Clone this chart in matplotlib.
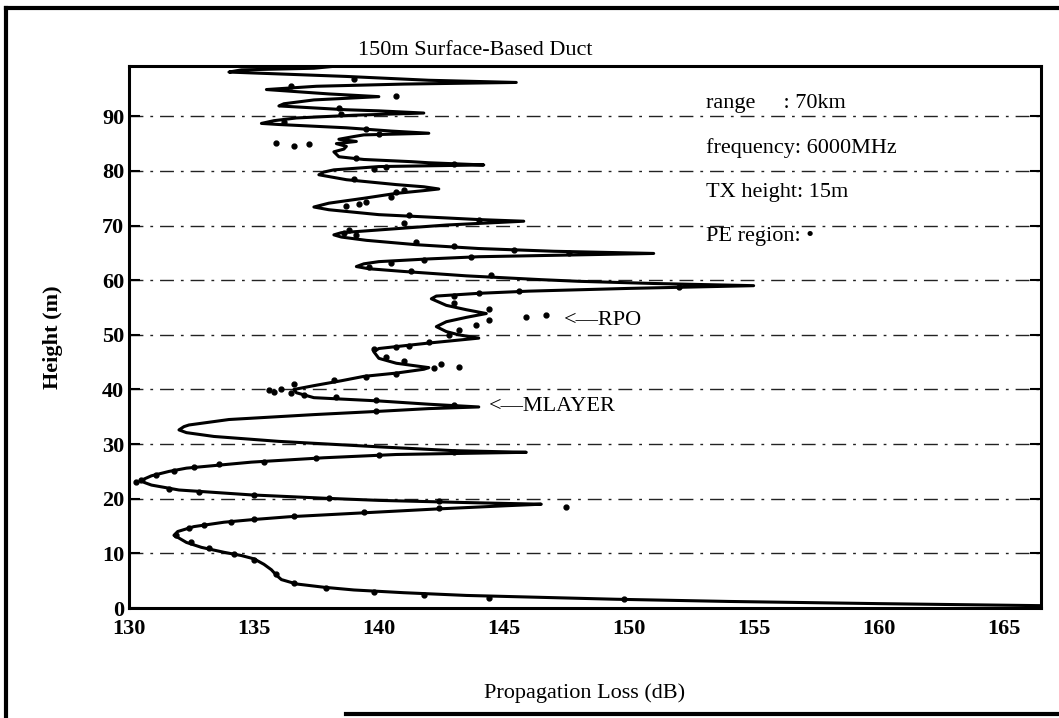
import numpy as np
import matplotlib
matplotlib.use("Agg")
import matplotlib.pyplot as plt
from matplotlib.lines import Line2D

plt.rcParams['font.family'] = ['Liberation Serif', 'DejaVu Serif']

# solid curve: propagation loss (dB) vs height (m)
curve_height = [0.4, 0.8, 1.2, 1.6, 1.9, 2.3, 2.8, 3.3, 3.8, 4.4, 5.2, 6.0, 7.0, 8.0, 9.0, 9.6,
                10.2, 11.1, 12.0, 12.8, 13.3, 14.0, 14.9, 15.7, 16.2, 16.7, 17.4, 18.1, 18.7, 19.0,
                19.3, 19.7, 20.1, 20.7, 21.6, 22.5, 23.0, 23.6, 24.2, 25.0, 25.6, 26.7, 27.5, 28.1,
                28.5, 28.8, 29.5, 30.5, 31.4, 32.1, 32.6, 33.2, 33.5, 34.5, 35.4, 36.0, 36.5, 36.8,
                37.3, 37.9, 38.5, 39.4, 40.0, 40.7, 41.6, 42.4, 43.0, 43.7, 44.0, 44.8, 45.7, 46.9,
                47.5, 48.5, 49.4, 50.0, 50.6, 51.5, 52.4, 53.2, 53.9, 54.6, 55.4, 56.6, 57.1, 57.6,
                58.0, 58.5, 59.0, 59.4, 59.8, 60.1, 60.8, 61.6, 62.1, 62.5, 63.0, 63.4, 63.9, 64.3,
                64.6, 64.9, 65.3, 65.8, 66.5, 67.3, 67.9, 68.3, 68.7, 69.2, 70.1, 70.5, 70.8, 71.1,
                71.4, 72.0, 72.9, 73.4, 74.1, 75.0, 75.9, 76.4, 76.7, 77.1, 77.5, 78.4, 79.3, 79.8,
                80.2, 80.8, 81.1, 81.5, 81.7, 82.1, 82.6, 83.5, 84.0, 84.5, 85.0, 85.4, 85.8, 86.3,
                86.6, 86.9, 87.3, 87.9, 88.5, 88.7, 89.2, 89.7, 90.2, 90.6, 91.0, 91.2, 91.9, 92.3,
                93.0, 93.6, 94.1, 94.9, 95.5, 95.9, 96.2, 96.6, 97.3, 98.1, 98.5, 98.8, 99.5]
curve_loss = [167.0, 160.0, 154.0, 149.5, 147.0, 143.5, 141.0, 139.0, 137.8, 136.7, 136.1, 135.9, 135.7, 135.4, 135.0, 134.5,
              133.8, 132.9, 132.3, 132.0, 131.8, 131.95, 132.6, 133.8, 135.0, 136.4, 139.3, 142.2, 145.0, 146.5,
              143.5, 140.0, 137.8, 134.9, 132.0, 130.9, 130.6, 130.6, 130.9, 131.6, 132.3, 134.9, 137.8, 140.7,
              145.9, 143.0, 140.0, 136.0, 133.4, 132.3, 132.0, 132.2, 132.4, 134.0, 137.4, 140.0, 142.0, 144.0,
              142.0, 140.0, 137.4, 136.7, 136.6, 137.4, 138.5, 139.4, 140.7, 141.8, 142.0, 140.7, 140.0, 139.8,
              140.0, 142.0, 144.0, 143.2, 142.7, 142.3, 142.7, 143.5, 144.3, 143.5, 142.7, 142.1, 142.3, 144.0,
              146.0, 150.0, 155.0, 151.0, 148.0, 146.5, 143.5, 141.0, 139.6, 139.1, 139.4, 140.0, 142.0, 144.0,
              147.5, 151.0, 147.0, 144.0, 141.5, 139.5, 138.5, 138.2, 138.5, 140.0, 142.7, 144.5, 145.8, 144.0,
              142.7, 140.0, 138.0, 137.4, 138.0, 139.4, 140.7, 141.8, 142.4, 141.8, 140.7, 138.7, 137.6, 137.8,
              138.2, 140.0, 144.2, 142.0, 141.3, 139.4, 138.4, 138.2, 138.6, 138.7, 138.3, 139.1, 138.4, 139.0,
              139.4, 142.0, 140.5, 138.7, 136.0, 135.3, 135.8, 136.7, 139.0, 141.8, 140.0, 138.7, 136.0, 136.2,
              137.4, 140.0, 138.0, 135.5, 137.5, 141.0, 145.5, 142.0, 138.7, 134.0, 134.5, 137.4, 139.0]

# PE region points
pe_height = [1.6, 1.9, 2.3, 2.9, 3.7, 4.6, 6.2, 8.8, 9.9, 11.0, 12.0, 13.4, 14.6, 15.2, 15.8, 16.3,
             16.8, 17.6, 18.3, 18.5, 19.6, 20.2, 20.6, 21.3, 21.8, 23.0, 23.5, 24.4, 25.0, 25.8,
             26.3, 26.8, 27.5, 28.0, 28.6, 36.0, 37.2, 38.0, 38.6, 39.0, 39.6, 39.9, 40.1, 39.4,
             41.0, 41.8, 42.3, 42.8, 44.0, 44.6, 44.2, 45.2, 46.0, 47.4, 47.8, 48.0, 48.6, 50.0,
             50.8, 51.8, 52.8, 53.2, 53.6, 54.8, 55.9, 57.2, 57.6, 58.0, 58.7, 61.0, 61.7, 62.5,
             63.1, 63.7, 64.3, 64.9, 65.5, 66.3, 67.0, 68.3, 68.7, 69.2, 70.5, 71.0, 72.0, 73.5,
             74.0, 74.4, 75.2, 76.2, 76.5, 78.5, 80.4, 80.8, 81.3, 82.3, 85.2, 84.6, 85.0, 86.7,
             87.6, 89.0, 90.4, 91.5, 93.7, 95.6, 96.8]
pe_loss = [149.8, 144.4, 141.8, 139.8, 137.9, 136.6, 135.9, 135.0, 134.2, 133.2, 132.5, 131.9, 132.4, 133.0, 134.1, 135.0,
           136.6, 139.4, 142.4, 147.5, 142.4, 138.0, 135.0, 132.8, 131.6, 130.3, 130.5, 131.1, 131.8, 132.6,
           133.6, 135.4, 137.5, 140.0, 143.0, 139.9, 143.0, 139.9, 138.3, 137.0, 135.8, 135.6, 136.1, 136.5,
           136.6, 138.2, 139.5, 140.7, 142.2, 142.5, 143.2, 141.0, 140.3, 139.8, 140.7, 141.2, 142.0, 142.8,
           143.2, 143.9, 144.4, 145.9, 146.7, 144.4, 143.0, 143.0, 144.0, 145.6, 152.0, 144.5, 141.3, 139.6,
           140.5, 141.8, 143.7, 147.6, 145.4, 143.0, 141.5, 139.1, 138.6, 138.8, 141.0, 144.0, 141.2, 138.7,
           139.2, 139.5, 140.5, 140.7, 141.0, 139.0, 139.8, 140.3, 143.0, 139.1, 135.9, 136.6, 137.2, 140.0,
           139.5, 136.2, 138.5, 138.4, 140.7, 136.5, 139.0]

x_ticks = [130, 135, 140, 145, 150, 155, 160, 165]
y_ticks = [0, 10, 20, 30, 40, 50, 60, 70, 80, 90]
info_lines = ['range     : 70km', 'frequency: 6000MHz', 'TX height: 15m', 'PE region: •']

fig = plt.figure(figsize=(10.59, 7.18), dpi=100)
ax = fig.add_axes([0.1218, 0.1532, 0.8612, 0.7548])

# dash-dot grid lines
for yv in y_ticks[1:]:
    ax.axhline(yv, color='#222222', lw=1.0, ls=(0, (10, 5, 2, 5)), zorder=1)

ax.plot(curve_loss, curve_height, color='black', lw=2.2, zorder=3)
ax.plot(pe_loss, pe_height, 'o', color='black', ms=3.5, zorder=4)

ax.set_xlim(130, 166.5)
ax.set_ylim(0, 99.2)
ax.set_xticks(x_ticks)
ax.set_yticks(y_ticks)
ax.tick_params(axis='y', direction='in', length=8, width=1.5, right=True, labelsize=16)
ax.tick_params(axis='x', length=0, labelsize=16, pad=8)
for lab in ax.get_xticklabels() + ax.get_yticklabels():
    lab.set_fontweight('bold')
for sp in ax.spines.values():
    sp.set_linewidth(2.2)

ax.set_title('150m Surface-Based Duct', fontsize=16, x=0.38, pad=8)
ax.set_xlabel('Propagation Loss (dB)', fontsize=16, labelpad=32)
ax.set_ylabel('Height (m)', fontsize=16, fontweight='bold', labelpad=28)

for i, line in enumerate(info_lines):
    ax.text(0.633, 0.93 - i * 0.0815, line, transform=ax.transAxes, fontsize=16, va='center')

ax.text(147.4, 52.6, '<—RPO', fontsize=16, va='center')
ax.text(144.4, 36.8, '<—MLAYER', fontsize=16, va='center')

# outer frame from the scanned page
fig.add_artist(Line2D([6 / 1059, 6 / 1059], [0, 1 - 8 / 718], color='black', lw=3))
fig.add_artist(Line2D([6 / 1059, 1], [1 - 8 / 718, 1 - 8 / 718], color='black', lw=3))
fig.add_artist(Line2D([346 / 1059, 1], [4 / 718, 4 / 718], color='black', lw=3))

fig.savefig('out.png', dpi=100)
